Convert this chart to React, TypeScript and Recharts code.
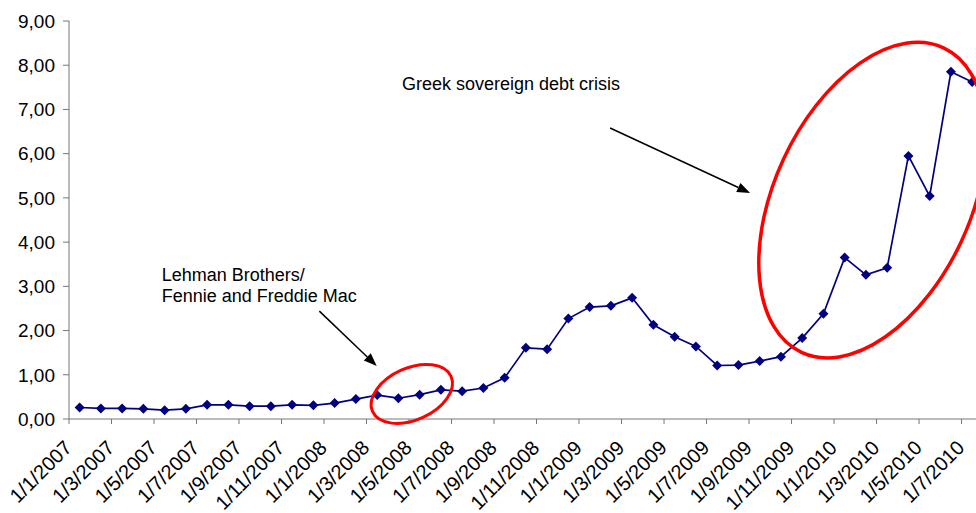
import { Line, LineChart, ReferenceDot, ReferenceLine, XAxis, YAxis } from "recharts";

// monthly observations, Jan 2007 – Jul 2010
const dates = [
  "1/1/2007", "1/2/2007", "1/3/2007", "1/4/2007", "1/5/2007", "1/6/2007",
  "1/7/2007", "1/8/2007", "1/9/2007", "1/10/2007", "1/11/2007", "1/12/2007",
  "1/1/2008", "1/2/2008", "1/3/2008", "1/4/2008", "1/5/2008", "1/6/2008",
  "1/7/2008", "1/8/2008", "1/9/2008", "1/10/2008", "1/11/2008", "1/12/2008",
  "1/1/2009", "1/2/2009", "1/3/2009", "1/4/2009", "1/5/2009", "1/6/2009",
  "1/7/2009", "1/8/2009", "1/9/2009", "1/10/2009", "1/11/2009", "1/12/2009",
  "1/1/2010", "1/2/2010", "1/3/2010", "1/4/2010", "1/5/2010", "1/6/2010",
  "1/7/2010",
];

const spread = [
  0.26, 0.24, 0.24, 0.23, 0.2, 0.23, 0.32, 0.32, 0.29, 0.29, 0.32, 0.31,
  0.36, 0.45, 0.54, 0.47, 0.55, 0.66, 0.63, 0.7, 0.93, 1.61, 1.58, 2.27,
  2.53, 2.56, 2.74, 2.13, 1.86, 1.64, 1.21, 1.22, 1.31, 1.41, 1.83, 2.38,
  3.65, 3.26, 3.42, 5.95, 5.04, 7.85, 7.62,
];

// tick every second month (index into dates)
const xTicks = [0, 2, 4, 6, 8, 10, 12, 14, 16, 18, 20, 22, 24, 26, 28, 30, 32, 34, 36, 38, 40, 42];
const yTicks = [0, 1, 2, 3, 4, 5, 6, 7, 8, 9];

// annotation anchors, in data units (x = month index, y = value)
const lehmanText = { x: 4.36, y: 3.13 };
const greekText = { x: 15.67, y: 7.43 };
const lehmanArrow = [{ x: 11.78, y: 2.44 }, { x: 14.48, y: 1.2 }];
const greekArrow = [{ x: 25.46, y: 6.58 }, { x: 32.05, y: 5.11 }];
const lehmanRing = { x: 16.13, y: 0.566 };
const greekRing = { x: 37.81, y: 4.95 };

const data = spread.map((v, i) => ({ x: i + 0.5, v }));

const FONT = "'Liberation Sans', Arial, sans-serif";
const fmt = (v: number) => v.toFixed(2).replace(".", ",");

function Diamond(props: any) {
  const { cx, cy } = props;
  if (cx == null || cy == null) return null;
  const s = 5;
  return <path d={`M${cx},${cy - s}L${cx + s},${cy}L${cx},${cy + s}L${cx - s},${cy}Z`} fill="#000080" />;
}

function DateTick(props: any) {
  const { x, y, payload } = props;
  const tx = x + 4;
  const ty = y + 23;
  return (
    <text x={tx} y={ty} transform={`rotate(-45 ${tx} ${ty})`} textAnchor="end" fill="#000" fontSize={20} fontFamily={FONT}>
      {dates[payload.value]}
    </text>
  );
}

function Arrow(props: any) {
  const { x1, y1, x2, y2 } = props;
  const a = Math.atan2(y2 - y1, x2 - x1);
  const len = 13;
  const w = 5;
  const bx = x2 - len * Math.cos(a);
  const by = y2 - len * Math.sin(a);
  const px = -Math.sin(a) * w;
  const py = Math.cos(a) * w;
  return (
    <g>
      <line x1={x1} y1={y1} x2={bx} y2={by} stroke="#000" strokeWidth={1.5} />
      <path d={`M${x2},${y2}L${bx + px},${by + py}L${bx - px},${by - py}Z`} fill="#000" />
    </g>
  );
}

const ring = (rx: number, ry: number, rot: number, sw: number) => (p: any) => (
  <ellipse cx={p.cx} cy={p.cy} rx={rx} ry={ry} transform={`rotate(${rot} ${p.cx} ${p.cy})`} fill="none" stroke="#ff0000" strokeWidth={sw} />
);

const textAt = (lines: string[]) => (p: any) => (
  <text x={p.cx} y={p.cy} fontSize={18} fontFamily={FONT} fill="#000">
    {lines.map((l, i) => (
      <tspan key={i} x={p.cx} dy={i === 0 ? 0 : 21}>
        {l}
      </tspan>
    ))}
  </text>
);

export default function App() {
  return (
    <div style={{ position: "absolute", left: 0, top: 0, width: 976, height: 513, background: "#fff" }}>
      <LineChart width={976} height={513} data={data} margin={{ top: 21, right: 0, bottom: 0, left: 0 }}>
        <XAxis
          type="number"
          dataKey="x"
          domain={[0, 42.68]}
          ticks={xTicks}
          interval={0}
          allowDataOverflow
          height={94}
          stroke="#777"
          tickSize={5}
          tick={<DateTick />}
        />
        <YAxis
          type="number"
          domain={[0, 9]}
          ticks={yTicks}
          interval={0}
          width={69}
          stroke="#777"
          tickSize={6}
          tickMargin={8}
          tickFormatter={fmt}
          tick={{ fill: "#000", fontSize: 19, fontFamily: FONT }}
        />
        <Line
          dataKey="v"
          stroke="#000080"
          strokeWidth={1.7}
          dot={<Diamond />}
          activeDot={false}
          isAnimationActive={false}
        />
        <ReferenceDot x={lehmanRing.x} y={lehmanRing.y} r={0} shape={ring(43, 26, -24, 3)} />
        <ReferenceDot x={greekRing.x} y={greekRing.y} r={0} shape={ring(168, 98, -65, 3.5)} />
        <ReferenceLine segment={lehmanArrow} shape={Arrow} />
        <ReferenceLine segment={greekArrow} shape={Arrow} />
        <ReferenceDot x={lehmanText.x} y={lehmanText.y} r={0} shape={textAt(["Lehman Brothers/", "Fennie and Freddie Mac"])} />
        <ReferenceDot x={greekText.x} y={greekText.y} r={0} shape={textAt(["Greek sovereign debt crisis"])} />
      </LineChart>
    </div>
  );
}
